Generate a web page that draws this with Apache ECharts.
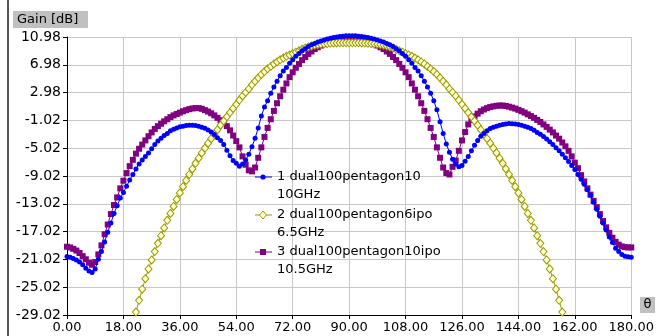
<!DOCTYPE html>
<html><head><meta charset="utf-8">
<script src="https://cdn.jsdelivr.net/npm/echarts@6/dist/echarts.min.js"></script>
<style>html,body{margin:0;padding:0;background:#fff}#c{width:657px;height:336px}</style>
</head><body><div id="c"></div>
<script>
// Angle samples (degrees)
const theta = [
  0,1,2,3,4,5,6,7,8,9,
  10,11,12,13,14,15,16,17,18,19,
  20,21,22,23,24,25,26,27,28,29,
  30,31,32,33,34,35,36,37,38,39,
  40,41,42,43,44,45,46,47,48,49,
  50,51,52,53,54,55,56,57,58,59,
  60,61,62,63,64,65,66,67,68,69,
  70,71,72,73,74,75,76,77,78,79,
  80,81,82,83,84,85,86,87,88,89,
  90,91,92,93,94,95,96,97,98,99,
  100,101,102,103,104,105,106,107,108,109,
  110,111,112,113,114,115,116,117,118,119,
  120,121,122,123,124,125,126,127,128,129,
  130,131,132,133,134,135,136,137,138,139,
  140,141,142,143,144,145,146,147,148,149,
  150,151,152,153,154,155,156,157,158,159,
  160,161,162,163,164,165,166,167,168,169,
  170,171,172,173,174,175,176,177,178,179,
  180
];
// 1 dual100pentagon10 10GHz
const gain10GHz = [
  -20.6,-20.7,-20.9,-21.1,-21.4,-21.8,-22.3,-22.7,-22.9,-22.4,
  -21.0,-19.9,-18.5,-17.1,-15.8,-14.4,-13.3,-12.2,-11.4,-10.5,
  -9.6,-8.8,-8.0,-7.3,-6.7,-6.2,-5.7,-5.1,-4.5,-4.0,
  -3.6,-3.2,-2.9,-2.5,-2.3,-2.1,-1.95,-1.85,-1.75,-1.7,
  -1.7,-1.75,-1.85,-2.0,-2.15,-2.4,-2.7,-3.05,-3.5,-3.9,
  -4.5,-5.3,-6.1,-6.8,-7.2,-7.6,-7.3,-6.7,-5.9,-4.8,
  -3.6,-2.1,-0.4,0.9,1.8,2.9,3.8,4.6,5.4,6.1,
  6.6,7.2,7.7,8.2,8.6,9.0,9.3,9.6,9.85,10.05,
  10.25,10.4,10.55,10.7,10.8,10.9,10.97,11.05,11.1,11.15,
  11.17,11.17,11.15,11.1,11.05,10.98,10.9,10.8,10.7,10.55,
  10.4,10.25,10.05,9.85,9.6,9.3,9.0,8.6,8.2,7.7,
  7.2,6.6,6.1,5.4,4.6,3.8,2.9,1.8,0.5,-1.2,
  -2.9,-4.4,-5.6,-6.6,-7.3,-7.7,-7.5,-6.9,-6.2,-5.4,
  -4.6,-3.9,-3.3,-2.9,-2.5,-2.2,-2.0,-1.85,-1.7,-1.6,
  -1.52,-1.48,-1.5,-1.55,-1.62,-1.72,-1.85,-2.0,-2.2,-2.45,
  -2.75,-3.0,-3.35,-3.7,-4.1,-4.5,-4.95,-5.4,-5.9,-6.4,
  -6.95,-7.5,-8.1,-8.8,-9.5,-10.2,-11.0,-11.8,-12.8,-13.8,
  -14.8,-15.8,-16.8,-17.8,-18.6,-19.4,-19.9,-20.3,-20.55,-20.65,
  -20.7
];
// 2 dual100pentagon6ipo 6.5GHz
const gain6_5GHz = [
  null,null,null,null,null,null,null,null,null,null,
  null,null,null,null,null,null,null,null,null,null,
  null,-30.4,-28.6,-26.9,-25.3,-23.8,-22.4,-21.1,-19.9,-18.7,
  -17.6,-16.5,-15.4,-14.4,-13.4,-12.4,-11.45,-10.55,-9.65,-8.8,
  -8.0,-7.2,-6.45,-5.7,-5.0,-4.3,-3.65,-3.0,-2.35,-1.7,
  -1.1,-0.5,0.1,0.7,1.3,1.9,2.5,3.0,3.5,4.1,
  4.6,5.1,5.6,6.0,6.4,6.75,7.1,7.4,7.7,7.95,
  8.2,8.4,8.6,8.8,9.0,9.2,9.4,9.55,9.7,9.8,
  9.88,9.95,10.0,10.04,10.08,10.1,10.12,10.14,10.15,10.15,
  10.15,10.15,10.15,10.14,10.12,10.1,10.08,10.04,10.0,9.95,
  9.88,9.8,9.7,9.55,9.4,9.2,9.0,8.8,8.6,8.4,
  8.2,7.95,7.7,7.4,7.1,6.75,6.4,6.0,5.6,5.1,
  4.6,4.1,3.5,3.0,2.5,1.9,1.3,0.7,0.1,-0.5,
  -1.1,-1.7,-2.35,-3.0,-3.65,-4.3,-5.0,-5.7,-6.45,-7.2,
  -8.0,-8.8,-9.65,-10.55,-11.45,-12.4,-13.4,-14.4,-15.4,-16.5,
  -17.6,-18.7,-19.9,-21.1,-22.4,-23.8,-25.3,-26.9,-28.6,-30.4,
  null,null,null,null,null,null,null,null,null,null,
  null,null,null,null,null,null,null,null,null,null,
  null
];
// 3 dual100pentagon10ipo 10.5GHz
const gain10_5GHz = [
  -19.2,-19.3,-19.5,-19.75,-20.1,-20.55,-21.0,-21.5,-21.8,-21.4,
  -20.3,-19.0,-17.4,-16.0,-14.5,-13.2,-12.1,-10.8,-9.7,-8.6,
  -7.6,-6.7,-5.8,-5.1,-4.5,-3.9,-3.3,-2.75,-2.25,-1.85,
  -1.5,-1.15,-0.85,-0.55,-0.3,-0.1,0.1,0.3,0.45,0.6,
  0.7,0.75,0.75,0.65,0.45,0.25,0.0,-0.3,-0.65,-1.0,
  -1.35,-1.85,-2.45,-3.2,-4.0,-4.9,-6.2,-7.4,-8.2,-8.35,
  -7.8,-6.4,-4.9,-3.4,-2.1,-0.85,0.35,1.45,2.45,3.4,
  4.3,5.2,5.9,6.55,7.1,7.65,8.1,8.55,8.9,9.25,
  9.5,9.75,9.95,10.15,10.3,10.45,10.55,10.65,10.7,10.74,
  10.75,10.74,10.7,10.65,10.55,10.45,10.3,10.15,9.95,9.75,
  9.5,9.25,8.9,8.55,8.1,7.65,7.1,6.55,5.9,5.2,
  4.3,3.4,2.45,1.45,0.35,-0.85,-2.1,-3.4,-4.9,-6.4,
  -7.8,-8.6,-8.8,-7.7,-6.8,-5.4,-3.9,-2.7,-1.6,-0.95,
  -0.45,-0.05,0.3,0.55,0.75,0.9,1.0,1.08,1.12,1.12,
  1.05,0.95,0.82,0.68,0.5,0.3,0.1,-0.15,-0.4,-0.65,
  -0.95,-1.25,-1.6,-1.95,-2.35,-2.75,-3.2,-3.65,-4.2,-4.75,
  -5.4,-6.2,-7.1,-7.9,-8.9,-9.8,-10.8,-11.7,-12.6,-13.5,
  -14.5,-15.5,-16.4,-17.2,-17.9,-18.5,-18.9,-19.15,-19.25,-19.3,
  -19.3
];
const legendNames = [
  ['1 dual100pentagon10', '10GHz'],
  ['2 dual100pentagon6ipo', '6.5GHz'],
  ['3 dual100pentagon10ipo', '10.5GHz']
];
const xMin = 0, xMax = 180, xStep = 18;
const yMin = -29.02, yMax = 10.98, yStep = 4;

const FONT = 'DejaVu Sans';
const C_BLUE = '#0000ff', C_OLIVE = '#999900', C_PURPLE = '#800080';
const pairs = arr => theta.map((t, i) => [t, arr[i]]);

const chart = echarts.init(document.getElementById('c'), null, {renderer: 'canvas'});

function legendItem(i, y, color, markerEl) {
  return [
    {type: 'line', shape: {x1: 255, y1: y, x2: 272, y2: y}, style: {stroke: color, lineWidth: 1}, z: 100},
    Object.assign(markerEl, {z: 101}),
    {type: 'text', x: 277, y: y, style: {text: legendNames[i][0], font: '13px "' + FONT + '"', fill: '#000', verticalAlign: 'middle'}, z: 101},
    {type: 'text', x: 277, y: y + 18, style: {text: legendNames[i][1], font: '13px "' + FONT + '"', fill: '#000', verticalAlign: 'middle'}, z: 101}
  ];
}

const graphics = [].concat(
  [{type: 'line', shape: {x1: 8, y1: 0, x2: 8, y2: 336}, style: {stroke: '#555', lineWidth: 2}},
   {type: 'rect', shape: {x: 13, y: 11, width: 75, height: 17}, style: {fill: '#c0c0c0'}},
   {type: 'text', x: 17, y: 19.5, style: {text: 'Gain [dB]', font: '13px "' + FONT + '"', fill: '#000', verticalAlign: 'middle'}},
   {type: 'rect', shape: {x: 640, y: 297, width: 15, height: 16}, style: {fill: '#c0c0c0'}},
   {type: 'text', x: 647.5, y: 305, style: {text: 'θ', font: '13px "' + FONT + '"', fill: '#000', align: 'center', verticalAlign: 'middle'}}],
  legendItem(0, 177, C_BLUE, {type: 'circle', shape: {cx: 263, cy: 177, r: 2.6}, style: {fill: C_BLUE}}),
  legendItem(1, 215, C_OLIVE, {type: 'polygon', shape: {points: [[263, 211], [266.5, 215], [263, 219], [259.5, 215]]}, style: {fill: '#ffffd0', stroke: C_OLIVE, lineWidth: 1}}),
  legendItem(2, 252, C_PURPLE, {type: 'rect', shape: {x: 260, y: 249, width: 6, height: 6}, style: {fill: C_PURPLE}})
);

const axisCommon = {
  axisLine: {show: true, onZero: false, lineStyle: {color: '#000', width: 1}},
  axisTick: {show: true, length: 4, lineStyle: {color: '#000', width: 1}},
  splitLine: {show: true, lineStyle: {color: '#c8c8c8', width: 1}}
};

chart.setOption({
  animation: false,
  backgroundColor: '#fff',
  grid: {left: 67, right: 23, top: 37, bottom: 21, containLabel: false},
  xAxis: Object.assign({
    type: 'value', min: xMin, max: xMax, interval: xStep,
    axisLabel: {formatter: v => v.toFixed(2), fontFamily: FONT, fontSize: 13, color: '#000', margin: 6}
  }, axisCommon),
  yAxis: Object.assign({
    type: 'value', min: yMin, max: yMax, interval: yStep,
    axisLabel: {formatter: v => v.toFixed(2), fontFamily: FONT, fontSize: 14, color: '#000', margin: 6}
  }, axisCommon),
  series: [
    {name: legendNames[2].join(' '), type: 'line', data: pairs(gain10_5GHz), symbol: 'rect', symbolSize: 6, clip: false,
     itemStyle: {color: C_PURPLE}, lineStyle: {color: C_PURPLE, width: 1}, silent: true, z: 2},
    {name: legendNames[1].join(' '), type: 'line', data: pairs(gain6_5GHz), symbol: 'diamond', symbolSize: [7, 8],
     itemStyle: {color: '#ffffd0', borderColor: C_OLIVE, borderWidth: 1}, lineStyle: {color: C_OLIVE, width: 1}, silent: true, z: 3},
    {name: legendNames[0].join(' '), type: 'line', data: pairs(gain10GHz), symbol: 'circle', symbolSize: 5, clip: false,
     itemStyle: {color: C_BLUE}, lineStyle: {color: C_BLUE, width: 1}, silent: true, z: 4}
  ],
  graphic: graphics
});
</script>
</body></html>
